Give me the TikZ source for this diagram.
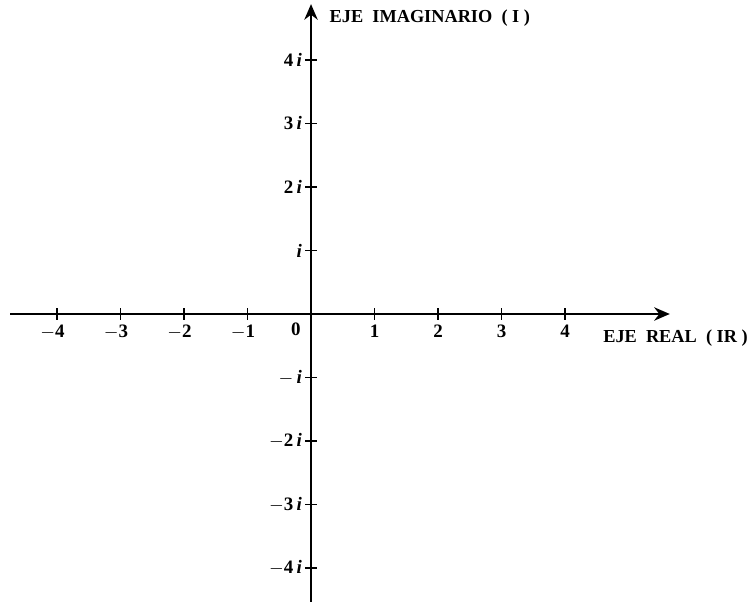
\documentclass[tikz,border=0pt]{standalone}
\usepackage{fontspec}
\setmainfont{Liberation Serif}
\usetikzlibrary{arrows.meta}
\begin{document}
\begin{tikzpicture}[font=\fontsize{8.5}{10}\selectfont\bfseries]
\useasboundingbox (-4.898,-4.535) rectangle (6.929,4.945);
\draw[line width=0.9pt,-{Stealth[length=7pt,width=6pt]}] (-4.74,0) -- (5.65,0);
\draw[line width=0.9pt,-{Stealth[length=7pt,width=6pt]}] (0,-4.535) -- (0,4.88);
\foreach \x in {-4,-3,-2,-1} { \draw[line width=0.6pt] (\x,-0.09)--(\x,0.09) node[below=4pt,xshift=-2pt] {$\mathbf{-}\mathbf{\the\numexpr-\x\relax}$}; }
\foreach \x in {1,2,3,4} { \draw[line width=0.6pt] (\x,-0.09)--(\x,0.09) node[below=4pt] {\x}; }
\node (cero) at (-0.24,-0.24) {0};
\foreach \y/\t in {4/4,3/3,2/2} { \draw[line width=0.6pt] (-0.09,\y)--(0.09,\y); \node[left] at (-0.02,\y) {\t\,\textit{i}}; }
\draw[line width=0.6pt] (-0.09,1)--(0.09,1); \node[left] at (-0.02,1) {\textit{i}};
\draw[line width=0.6pt] (-0.09,-1)--(0.09,-1); \node[left] at (-0.02,-1) {$\mathbf{-}$\,\textit{i}};
\foreach \y in {2,3,4} { \draw[line width=0.6pt] (-0.09,-\y)--(0.09,-\y); \node[left] at (-0.02,-\y) {$\mathbf{-}$\y\,\textit{i}}; }
\node[anchor=west,font=\fontsize{8.2}{10}\selectfont\bfseries] (ejeim) at (0.17,4.66) {EJE\ \ IMAGINARIO\ \ ( I )};
\node[font=\fontsize{8.2}{10}\selectfont\bfseries] (ejere) at (5.74,-0.38) {EJE\ \ REAL\ \ ( IR )};
\end{tikzpicture}
\end{document}
